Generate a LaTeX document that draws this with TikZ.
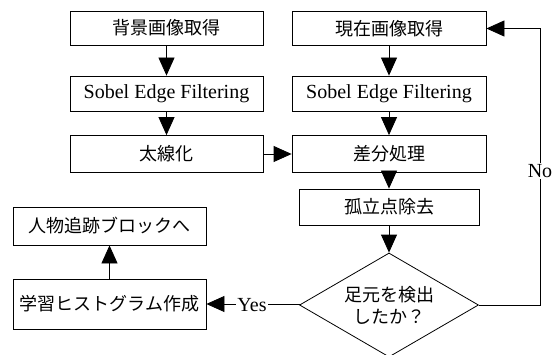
\documentclass[tikz,border=0pt]{standalone}
\usepackage{fontspec}
\setmainfont{Liberation Serif}
\newfontfamily\jp{Noto Sans CJK JP}
\usetikzlibrary{arrows.meta,shapes.geometric}
\begin{document}
\begin{tikzpicture}[x=1pt,y=-1pt,
  box/.style={draw, line width=0.8pt, inner sep=0pt, anchor=center},
  jt/.style={font=\jp\fontsize{18}{22}\selectfont},
  lt/.style={font=\fontsize{20}{22}\selectfont},
  arr/.style={line width=0.8pt, -{Triangle[length=18pt,width=16pt]}},
  ln/.style={line width=0.8pt}]
\fill[white] (0,0) rectangle (553,355);
\useasboundingbox (0,0) rectangle (553,355);
% left column
\node[box,jt,minimum width=193pt,minimum height=34pt] (b1) at (166.5,28) {背景画像取得};
\node[box,lt,minimum width=193pt,minimum height=35pt] (b2) at (166.5,93.5) {Sobel Edge Filtering};
\node[box,jt,minimum width=193pt,minimum height=37pt] (b3) at (166.5,154) {太線化};
% right column
\node[box,jt,minimum width=194pt,minimum height=34pt] (r1) at (389,28.5) {現在画像取得};
\node[box,lt,minimum width=194pt,minimum height=35pt] (r2) at (389,93.5) {Sobel Edge Filtering};
\node[box,jt,minimum width=194pt,minimum height=37pt] (r3) at (389,154) {差分処理};
\node[box,jt,minimum width=180pt,minimum height=36pt] (r4) at (389,207) {孤立点除去};
\node[draw,line width=0.8pt,diamond,aspect=1.72,inner sep=0pt,minimum width=179pt,minimum height=104pt,jt,align=center] (d) at (389,305) {足元を検出\\したか？};
% bottom left
\node[box,jt,minimum width=193pt,minimum height=38pt] (p) at (109.5,226) {人物追跡ブロックへ};
\node[box,jt,minimum width=193pt,minimum height=50pt] (h) at (109.5,304) {学習ヒストグラム作成};
% connectors
\draw[arr] (b1.south) -- (b2.north);
\draw[arr] (b2.south) -- (b3.north);
\draw[arr] (b3.east) -- (r3.west);
\draw[arr] (r1.south) -- (r2.north);
\draw[arr] (r2.south) -- (r3.north);
\draw[arr] (r3.south) -- (r4.north);
\draw[arr] (r4.south) -- (d.north);
\draw[arr] (d.west) -- (h.east -| d.west) -- (h.east);
\draw[arr] (h.north) -- (p.south);
\coordinate (nb) at (540,305);
\draw[arr] (d.east) -- (nb) -- (nb |- r1.east) -- (r1.east);
\node[lt,fill=white,inner sep=1pt] (yes) at (252,305) {Yes};
\node[lt,fill=white,inner sep=1pt] (no) at (540,171) {No};
\end{tikzpicture}
\end{document}
